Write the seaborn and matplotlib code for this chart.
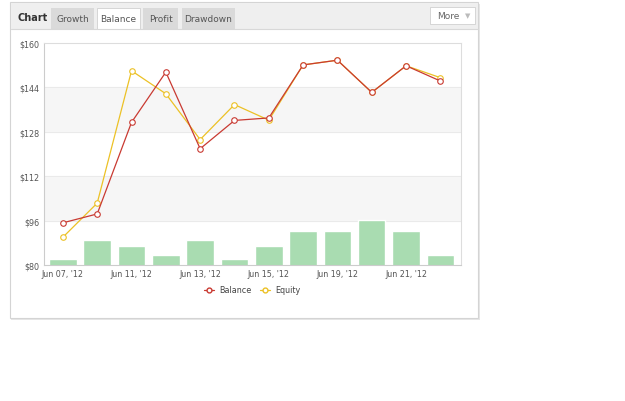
import pandas as pd
import matplotlib
matplotlib.use("Agg")
import matplotlib.pyplot as plt
import seaborn as sns
from matplotlib.patches import Rectangle
from matplotlib.lines import Line2D

# data
days = ["Jun 07, '12", "Jun 08, '12", "Jun 11, '12", "Jun 12, '12",
        "Jun 13, '12", "Jun 14, '12", "Jun 15, '12", "Jun 18, '12",
        "Jun 19, '12", "Jun 20, '12", "Jun 21, '12", "Jun 22, '12"]
balance = [95.2, 98.4, 131.4, 149.5, 121.9, 132.1, 133.0, 152.1, 153.8, 142.2, 151.8, 146.3]
equity = [90.0, 102.3, 150.0, 141.7, 125.2, 137.8, 132.2, 152.1, 153.8, 142.2, 151.8, 147.5]
bars = [82.0, 89.0, 87.0, 83.6, 89.0, 82.0, 87.0, 92.4, 92.4, 96.2, 92.4, 83.6]
yticks = [80, 96, 112, 128, 144, 160]

W, H = 625, 402
sns.set_theme(style="white")
plt.rcParams['font.family'] = ['DejaVu Sans']

RED = "#c93a32"
YEL = "#ecc125"

fig = plt.figure(figsize=(W / 100, H / 100), dpi=100)

# background axes in pixel coords for the panel decoration
bg = fig.add_axes([0, 0, 1, 1])
bg.set_xlim(0, W)
bg.set_ylim(H, 0)
bg.axis("off")
# shadow + panel
bg.add_patch(Rectangle((11, 5), 469, 316, facecolor="#e6e6e6", edgecolor="none"))
bg.add_patch(Rectangle((10, 3), 468, 316, facecolor="white", edgecolor="#d4d4d4", lw=0.8))
# header strip
bg.add_patch(Rectangle((10.5, 3.5), 467, 26, facecolor="#efefef", edgecolor="none"))
bg.plot([10.5, 477.5], [29.5, 29.5], color="#d8d8d8", lw=0.8)
bg.text(18, 18, "Chart", fontsize=7, fontweight="bold", color="#333333", va="center")
tabs = [("Growth", 51, 43, False), ("Balance", 97, 43, True),
        ("Profit", 143, 35, False), ("Drawdown", 182, 53, False)]
for name, x0, w, active in tabs:
    fc = "white" if active else "#dadada"
    bg.add_patch(Rectangle((x0, 9), w, 21, facecolor=fc,
                           edgecolor="#d0d0d0" if active else "none", lw=0.6))
    bg.text(x0 + w / 2, 19, name, fontsize=6.5, color="#555555",
            ha="center", va="center")
bg.add_patch(Rectangle((430, 8), 45, 17, facecolor="white", edgecolor="#d0d0d0", lw=0.6))
bg.text(448, 16.5, "More", fontsize=6.5, color="#666666", ha="center", va="center")
bg.text(468, 16.5, "\u25bc", fontsize=5, color="#bbbbbb", ha="center", va="center")

# plot axes
left, right, top, bottom = 44, 461, 44, 266
ax = fig.add_axes([left / W, 1 - bottom / H, (right - left) / W, (bottom - top) / H])
ax.set_facecolor("white")

# alternating bands
for lo, hi in [(96, 112), (128, 144)]:
    ax.axhspan(lo, hi, color="#f6f6f6", zorder=0)
for y in yticks[1:-1]:
    ax.axhline(y, color="#e8e8e8", lw=0.6, zorder=0.5)

x = list(range(len(days)))
bar_df = pd.DataFrame({"x": x, "v": bars})
sns.barplot(data=bar_df, x="x", y="v", color="#a9dcb1", saturation=1,
            width=0.8, ax=ax, zorder=2, native_scale=True)

eq_df = pd.DataFrame({"x": x, "v": equity})
bal_df = pd.DataFrame({"x": x, "v": balance})
sns.lineplot(data=eq_df, x="x", y="v", color=YEL, lw=0.9, marker="o",
             markersize=4, markerfacecolor="white", markeredgecolor=YEL,
             markeredgewidth=0.8, ax=ax, zorder=3)
sns.lineplot(data=bal_df, x="x", y="v", color=RED, lw=0.9, marker="o",
             markersize=4, markerfacecolor="white", markeredgecolor=RED,
             markeredgewidth=0.8, ax=ax, zorder=4)

ax.set_xlim(-0.55, 11.6)
ax.set_ylim(80, 160)
ax.set_yticks(yticks)
ax.set_yticklabels(["$%d" % v for v in yticks])
ax.set_xticks(x[::2])
ax.set_xticklabels(days[::2])
ax.tick_params(axis="both", labelsize=5.8, colors="#555555", length=0, pad=3)
ax.set_xlabel("")
ax.set_ylabel("")
for s in ax.spines.values():
    s.set_color("#dddddd")
    s.set_linewidth(0.8)
ax.spines["left"].set_color("#cccccc")
ax.spines["bottom"].set_color("#cccccc")

handles = [
    Line2D([], [], color=RED, lw=0.9, marker="o", markersize=3.5,
           markerfacecolor="white", markeredgecolor=RED),
    Line2D([], [], color=YEL, lw=0.9, marker="o", markersize=3.5,
           markerfacecolor="white", markeredgecolor=YEL),
]
fig.legend(handles, ["Balance", "Equity"], loc="center",
           bbox_to_anchor=(252 / W, 1 - 291 / H), ncol=2, frameon=False,
           fontsize=5.8, handlelength=1.3, handletextpad=0.6, columnspacing=1.0,
           labelcolor="#444444")

fig.savefig("out.png", dpi=100)
